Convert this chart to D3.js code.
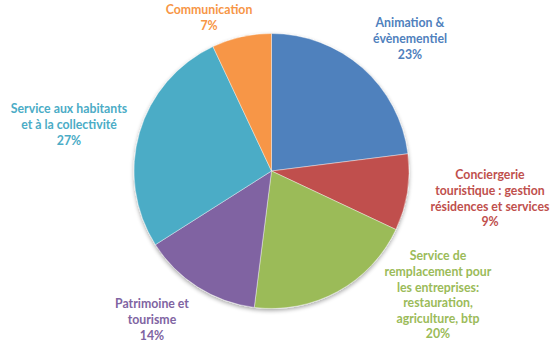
<!DOCTYPE html>
<html>
<head>
<meta charset="utf-8">
<script src="https://cdn.jsdelivr.net/npm/d3@7"></script>
<style>
  html, body { margin: 0; padding: 0; background: #fff; }
  svg { display: block; }
</style>
</head>
<body>
<script>
// ---- data ----
const categories = [
  "Animation & évènementiel",
  "Conciergerie touristique : gestion résidences et services",
  "Service de remplacement pour les entreprises: restauration, agriculture, btp",
  "Patrimoine et tourisme",
  "Service aux habitants et à la collectivité",
  "Communication"
];
const values = [23, 9, 20, 14, 27, 7];
const labelLines = [
  ["Animation &", "évènementiel"],
  ["Conciergerie", "touristique : gestion", "résidences et services"],
  ["Service de", "remplacement pour", "les entreprises:", "restauration,", "agriculture, btp"],
  ["Patrimoine et", "tourisme"],
  ["Service aux habitants", "et à la collectivité"],
  ["Communication"]
];
const colors = ["#4F81BD", "#C0504D", "#9BBB59", "#8064A2", "#4BACC6", "#F79646"];

// ---- layout ----
const W = 560, H = 355;
const cx = 271.5, cy = 171, R = 137.5;
// label anchor (center x, first-line center y)
const labelPos = [[410, 23], [490, 175], [438, 256], [152, 304], [69, 109], [209, 10]];
const lineH = 15.6;

const svg = d3.select("body").append("svg").attr("width", W).attr("height", H);

const defs = svg.append("defs");
const f = defs.append("filter").attr("id", "sh").attr("x", "-20%").attr("y", "-20%").attr("width", "140%").attr("height", "140%");
f.append("feGaussianBlur").attr("in", "SourceAlpha").attr("stdDeviation", 2.2);
f.append("feOffset").attr("dx", 0).attr("dy", 2).attr("result", "ob");
f.append("feComponentTransfer").append("feFuncA").attr("type", "linear").attr("slope", 0.35);
const m = f.append("feMerge");
m.append("feMergeNode");
m.append("feMergeNode").attr("in", "SourceGraphic");

const pie = d3.pie().sort(null).value(d => d)(values);
const arc = d3.arc().innerRadius(0).outerRadius(R);

const g = svg.append("g").attr("transform", `translate(${cx},${cy})`).attr("filter", "url(#sh)");
g.selectAll("path").data(pie).enter().append("path")
  .attr("d", arc)
  .attr("fill", (d, i) => colors[i])
  .attr("stroke", "#fff")
  .attr("stroke-width", 0.4);

const lbl = svg.append("g")
  .attr("font-family", "Lato, 'Open Sans', sans-serif")
  .attr("font-weight", "bold")
  .attr("font-size", "12.3px")
  .attr("text-anchor", "middle");

values.forEach((v, i) => {
  const lines = labelLines[i].concat([v + "%"]);
  const [x, y0] = labelPos[i];
  const t = lbl.append("text").attr("fill", colors[i]);
  lines.forEach((ln, j) => {
    t.append("tspan").attr("x", x).attr("y", y0 + j * lineH).attr("dy", "0.35em").text(ln);
  });
});
</script>
</body>
</html>
